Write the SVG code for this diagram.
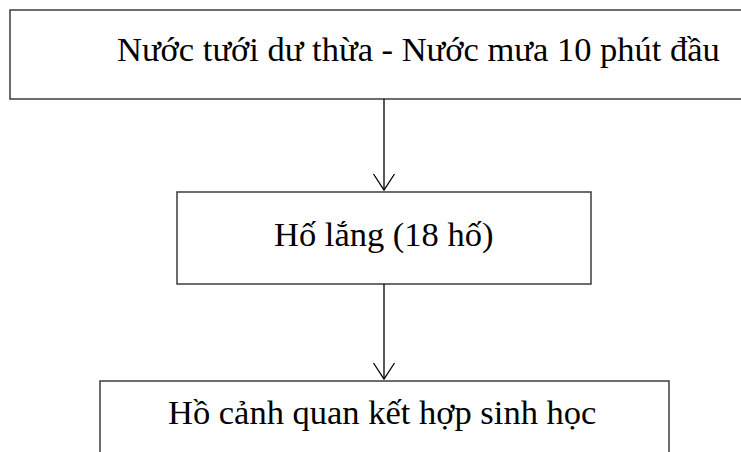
<svg xmlns="http://www.w3.org/2000/svg" width="741" height="452" viewBox="0 0 741 452">
  <style>
    .box { fill: #ffffff; stroke: #3c3c3c; stroke-width: 1.5; }
    .label { font-family: "Liberation Serif", "Times New Roman", serif; font-size: 34.5px; fill: #000000; }
    .link { fill: none; stroke: #000000; stroke-width: 1.3; }
  </style>
  <rect width="741" height="452" fill="#ffffff"/>

  <g id="node-source">
    <rect class="box" x="10" y="10" width="740" height="89"/>
    <text class="label" x="117" y="61">Nước tưới dư thừa - Nước mưa 10 phút đầu</text>
  </g>

  <g id="node-settling">
    <rect class="box" x="177" y="192" width="414" height="92"/>
    <text class="label" x="274" y="246">Hố lắng (18 hố)</text>
  </g>

  <g id="node-pond">
    <rect class="box" x="100" y="381" width="569" height="90"/>
    <text class="label" x="168" y="424">Hồ cảnh quan kết hợp sinh học</text>
  </g>

  <g id="connectors">
    <line class="link" x1="384" y1="99" x2="384" y2="190"/>
    <polyline class="link" points="373.5,174 384,190 394.5,174"/>
    <line class="link" x1="384" y1="284" x2="384" y2="379"/>
    <polyline class="link" points="373.5,363 384,379 394.5,363"/>
  </g>
</svg>
